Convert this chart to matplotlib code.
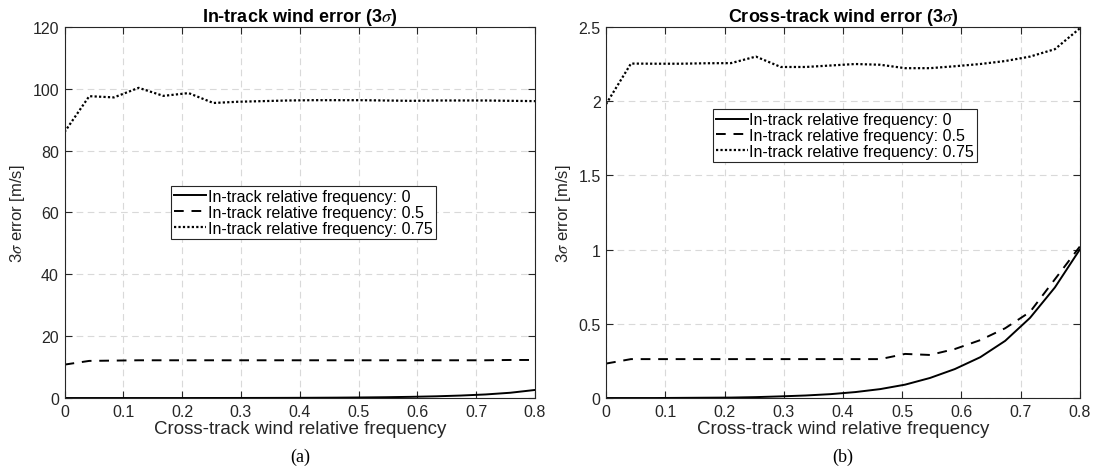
import matplotlib
matplotlib.use("Agg")
import matplotlib.pyplot as plt
from matplotlib.ticker import FuncFormatter

plt.rcParams['font.family'] = ['Liberation Sans', 'DejaVu Sans']
plt.rcParams['mathtext.fontset'] = 'stix'

# cross-track wind relative frequency (20 samples, 0 .. 0.8)
x = [0.0, 0.042, 0.084, 0.126, 0.168, 0.211, 0.253, 0.295, 0.337, 0.379,
     0.421, 0.463, 0.505, 0.547, 0.589, 0.632, 0.674, 0.716, 0.758, 0.8]

labels = ["In-track relative frequency: 0",
          "In-track relative frequency: 0.5",
          "In-track relative frequency: 0.75"]

# (a) in-track wind error
a_f0 = [0.0, 0.0, 0.0, 0.0, 0.0, 0.0, 0.01, 0.02, 0.03, 0.05,
        0.08, 0.12, 0.18, 0.26, 0.38, 0.55, 0.8, 1.15, 1.7, 2.6]
a_f05 = [10.8, 12.0, 12.1, 12.2, 12.2, 12.2, 12.2, 12.2, 12.2, 12.2,
         12.2, 12.2, 12.2, 12.2, 12.2, 12.2, 12.2, 12.2, 12.3, 12.3]
a_f075 = [86.0, 97.6, 97.2, 100.3, 97.7, 98.6, 95.4, 95.8, 96.0, 96.2,
          96.3, 96.3, 96.3, 96.2, 96.1, 96.2, 96.2, 96.2, 96.1, 96.0]

# (b) cross-track wind error
b_f0 = [0.0, 0.0, 0.0, 0.001, 0.002, 0.003, 0.006, 0.011, 0.017, 0.026,
        0.04, 0.06, 0.09, 0.135, 0.195, 0.275, 0.385, 0.54, 0.745, 1.0]
b_f05 = [0.232, 0.262, 0.262, 0.262, 0.262, 0.262, 0.262, 0.262, 0.262, 0.262,
         0.262, 0.262, 0.297, 0.29, 0.33, 0.39, 0.47, 0.58, 0.8, 1.02]
b_f075 = [1.98, 2.253, 2.252, 2.252, 2.255, 2.256, 2.30, 2.23, 2.23, 2.24,
          2.25, 2.245, 2.222, 2.222, 2.235, 2.25, 2.27, 2.30, 2.35, 2.49]

styles = [dict(ls='-', lw=1.4), dict(ls=(0, (5, 4)), lw=1.4), dict(ls=(0, (1, 1)), lw=1.6)]
dark = '#262626'

fig = plt.figure(figsize=(10.94, 4.77), dpi=100)
ax1 = fig.add_axes([0.059, 0.1635, 0.430, 0.778])
ax2 = fig.add_axes([0.554, 0.1635, 0.433, 0.778])

panels = [
    (ax1, [a_f0, a_f05, a_f075], 'In-track wind error (3$\\sigma$)', (0, 120), range(0, 121, 20),
     (0.226, 0.572), '(a)'),
    (ax2, [b_f0, b_f05, b_f075], 'Cross-track wind error (3$\\sigma$)', (0, 2.5), [0, 0.5, 1, 1.5, 2, 2.5],
     (0.225, 0.779), '(b)'),
]

for ax, ys, title, ylim, yticks, leg_pos, cap in panels:
    for y, st, lab in zip(ys, styles, labels):
        ax.plot(x, y, color='black', label=lab, **st)
    ax.set_xlim(0, 0.8)
    ax.set_ylim(*ylim)
    ax.set_xticks([0, 0.1, 0.2, 0.3, 0.4, 0.5, 0.6, 0.7, 0.8])
    ax.set_yticks(list(yticks))
    ax.xaxis.set_major_formatter(FuncFormatter(lambda v, p: '%g' % v))
    ax.yaxis.set_major_formatter(FuncFormatter(lambda v, p: '%g' % v))
    ax.grid(True, ls=(0, (6, 4)), color='#d9d9d9', lw=0.8)
    ax.tick_params(direction='in', top=True, right=True, labelsize=11.5,
                   colors=dark, length=5, pad=4)
    for s in ax.spines.values():
        s.set_color(dark)
        s.set_linewidth(0.8)
    ax.set_title(title, fontsize=13, fontweight='bold', pad=4)
    ax.set_xlabel('Cross-track wind relative frequency', fontsize=13.5, color=dark, labelpad=1)
    ax.set_ylabel('3$\\sigma$ error [m/s]', fontsize=12, color=dark, labelpad=4)
    leg = ax.legend(loc='upper left', bbox_to_anchor=leg_pos, fontsize=11.5, frameon=True,
                    fancybox=False, edgecolor=dark, framealpha=1, handlelength=2.0,
                    handletextpad=0.1, labelspacing=0.05, borderpad=0.2, borderaxespad=0)
    leg.get_frame().set_linewidth(0.8)
    ax.text(0.5, -0.135, cap, transform=ax.transAxes, ha='center', va='top',
            fontsize=13, family='Liberation Serif')

fig.savefig('out.png', dpi=100)
